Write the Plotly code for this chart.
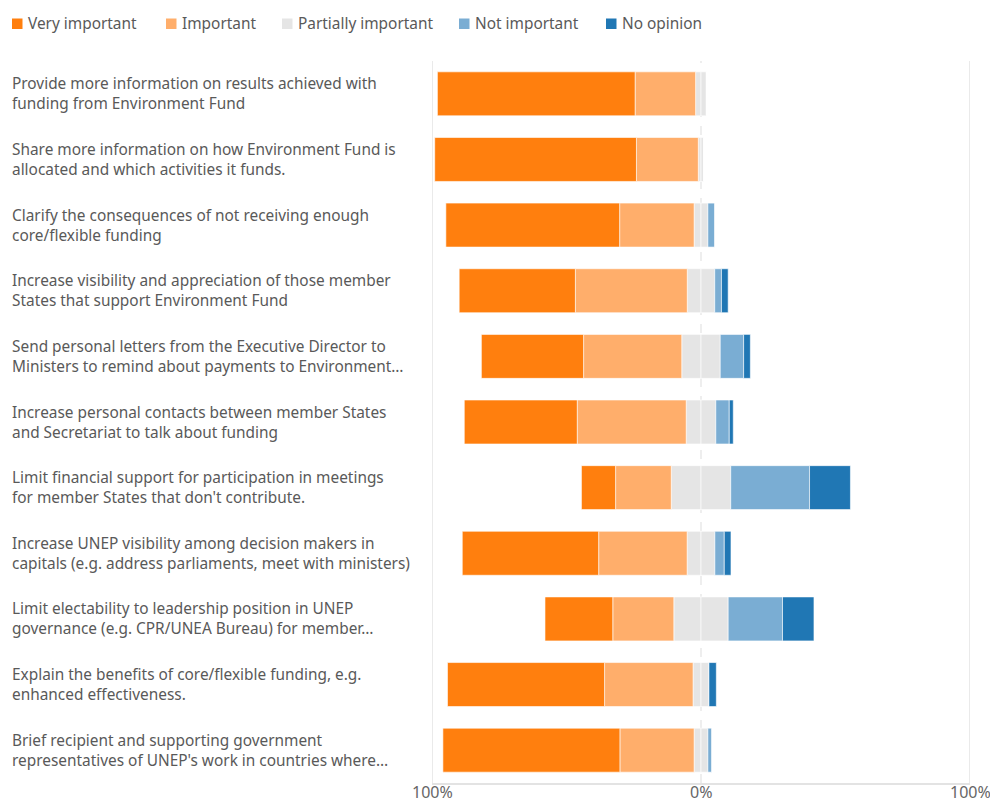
import plotly.graph_objects as go

categories = [
    "Provide more information on results achieved with<br>funding from Environment Fund",
    "Share more information on how Environment Fund is<br>allocated and which activities it funds.",
    "Clarify the consequences of not receiving enough<br>core/flexible funding",
    "Increase visibility and appreciation of those member<br>States that support Environment Fund",
    "Send personal letters from the Executive Director to<br>Ministers to remind about payments to Environment…",
    "Increase personal contacts between member States<br>and Secretariat to talk about funding",
    "Limit financial support for participation in meetings<br>for member States that don't contribute.",
    "Increase UNEP visibility among decision makers in<br>capitals (e.g. address parliaments, meet with ministers)",
    "Limit electability to leadership position in UNEP<br>governance (e.g. CPR/UNEA Bureau) for member…",
    "Explain the benefits of core/flexible funding, e.g.<br>enhanced effectiveness.",
    "Brief recipient and supporting government<br>representatives of UNEP's work in countries where…",
]

very_important = [73.5, 75.0, 64.6, 43.2, 38.0, 42.0, 12.7, 50.7, 25.2, 58.4, 65.8]
important = [22.5, 23.0, 27.7, 41.6, 36.5, 40.5, 20.7, 32.9, 22.7, 32.9, 27.6]
partially_important = [4.0, 2.0, 5.1, 10.2, 14.3, 11.0, 22.1, 10.3, 20.2, 5.9, 5.1]
not_important = [0.0, 0.0, 2.6, 2.5, 8.7, 5.0, 29.3, 3.5, 20.2, 0.0, 1.5]
no_opinion = [0.0, 0.0, 0.0, 2.5, 2.5, 1.5, 15.2, 2.5, 11.7, 2.75, 0.0]

series_names = ["Very important", "Important", "Partially important", "Not important", "No opinion"]

tick_vals = [-100, 0, 100]
tick_text = ["100%", "0%", "100%"]

colors = {
    "Very important": "#ff7f0e",
    "Important": "#ffae6b",
    "Partially important": "#e5e5e5",
    "Not important": "#7aadd3",
    "No opinion": "#2077b4",
}

FONT = "Noto Sans, Open Sans, sans-serif"
TXT = "#595959"
idx = list(range(len(categories)))
edge = dict(color="rgba(255,255,255,0.6)", width=1)

W, H = 990, 802
ml, mr, mt, mb = 432, 20, 61, 19
pw = W - ml - mr
ph = H - mt - mb


def px_x(p):
    return (p - ml) / pw


def px_y(p):
    return (H - mb - p) / ph


fig = go.Figure()


def add(name, vals, sign, orig):
    fig.add_trace(go.Bar(
        name=name, y=idx, x=[sign * v for v in vals], orientation="h",
        marker=dict(color=colors[name], line=edge),
        showlegend=False,
        customdata=orig,
        hovertemplate=name + ": %{customdata:.1f}%<extra></extra>",
    ))


half_pi = [v / 2 for v in partially_important]
add("Partially important", half_pi, -1, partially_important)
add("Important", important, -1, important)
add("Very important", very_important, -1, very_important)
add("Partially important", half_pi, 1, partially_important)
add("Not important", not_important, 1, not_important)
add("No opinion", no_opinion, 1, no_opinion)

# category labels, left aligned
for i, c in enumerate(categories):
    fig.add_annotation(
        x=px_x(10), xref="paper", xanchor="left",
        y=i, yref="y", yanchor="middle",
        text=c, align="left", showarrow=False,
        font=dict(family=FONT, size=15.4, color=TXT),
    )

# legend (top, horizontal)
legend_x = [12, 166, 282, 459, 606]
for name, lx in zip(series_names, legend_x):
    fig.add_shape(type="rect", xref="paper", yref="paper",
                  x0=px_x(lx), x1=px_x(lx + 10.5), y0=px_y(29), y1=px_y(18.5),
                  fillcolor=colors[name], line=dict(width=0))
    fig.add_annotation(
        x=px_x(lx + 13.5), xref="paper", xanchor="left",
        y=px_y(23.5), yref="paper", yanchor="middle",
        text=name, showarrow=False,
        font=dict(family=FONT, size=15.4, color=TXT),
    )

# x tick labels (placed close under the axis line)
for tv, tt in zip(tick_vals, tick_text):
    fig.add_annotation(
        x=tv, xref="x", xanchor="center",
        y=px_y(791.5), yref="paper", yanchor="middle",
        text=tt, showarrow=False, borderpad=0,
        font=dict(family=FONT, size=16, color="#666666"),
    )

# vertical guide lines
for v, dash in [(-100, "solid"), (0, "dash"), (100, "solid")]:
    fig.add_shape(type="line", xref="x", yref="paper", x0=v, x1=v, y0=0, y1=1,
                  line=dict(color="#e3e3e3", width=1.5 if dash == "solid" else 1.2, dash=dash),
                  layer="below")

fig.update_layout(
    width=W, height=H,
    margin=dict(l=ml, r=mr, t=mt, b=mb),
    barmode="relative", bargap=0.33,
    plot_bgcolor="white", paper_bgcolor="white",
    font=dict(family=FONT, size=15, color=TXT),
    showlegend=False,
    xaxis=dict(range=[-100, 100], tickvals=tick_vals, showticklabels=False,
               showgrid=False, zeroline=False, showline=True,
               linecolor="#e3e3e3", linewidth=1.5, automargin=False,
               ticks="", fixedrange=True),
    yaxis=dict(autorange="reversed", showticklabels=False, showgrid=False,
               zeroline=False, automargin=False),
)

fig.write_html("out.html", config={"displayModeBar": False},
               post_script="document.body.style.margin='0';")
